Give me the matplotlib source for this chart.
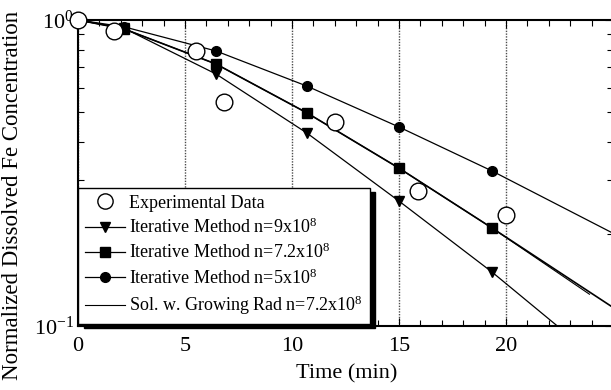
import numpy as np
import matplotlib.pyplot as plt
from matplotlib.ticker import FixedLocator, NullFormatter, MultipleLocator

plt.rcParams['font.family'] = ['Liberation Serif', 'DejaVu Serif']
plt.rcParams['mathtext.fontset'] = 'custom'
plt.rcParams['mathtext.rm'] = 'Liberation Serif'
plt.rcParams['mathtext.it'] = 'Liberation Serif:italic'

# experimental data
exp_t = [0.0, 1.7, 5.5, 6.8, 12.0, 15.9, 20.0]
exp_c = [1.0, 0.92, 0.79, 0.54, 0.464, 0.276, 0.23]

# iterative method, marker points
it_t = [2.15, 6.45, 10.7, 15.0, 19.35]
it9_c = [0.94, 0.666, 0.427, 0.256, 0.150]
it72_c = [0.935, 0.718, 0.497, 0.328, 0.209]
it5_c = [0.95, 0.792, 0.608, 0.447, 0.321]

# curve end points (start at t=0, c=1)
it9_end = (22.4, 0.1)
it72_end = (25.0, 0.115)
it5_end = (25.0, 0.201)

# solution with growing radius
gr_t = [0.0, 2.15, 6.45, 10.7, 15.0, 19.35, 23.9]
gr_c = [1.0, 0.935, 0.718, 0.497, 0.328, 0.209, 0.127]

x_ticks = [0, 5, 10, 15, 20]

fig = plt.figure(figsize=(6.11, 3.9), dpi=100)
ax = fig.add_axes([78 / 611, 64 / 390, 535 / 611, 306 / 390])
ax.set_yscale('log')
ax.set_xlim(0, 25)
ax.set_ylim(0.1, 1.0)


def curve(c, end):
    return [0.0] + it_t + [end[0]], [1.0] + c + [end[1]]


lw = 0.9
x, y = curve(it9_c, it9_end)
ax.plot(x, y, color='black', lw=lw)
x, y = curve(it72_c, it72_end)
ax.plot(x, y, color='black', lw=1.2)
x, y = curve(it5_c, it5_end)
ax.plot(x, y, color='black', lw=lw)
ax.plot(gr_t, gr_c, color='black', lw=0.8)

ax.plot(it_t, it9_c, 'v', color='black', ms=7, ls='none')
ax.plot(it_t, it72_c, 's', color='black', ms=7.5, ls='none')
ax.plot(it_t, it5_c, 'o', color='black', ms=7, ls='none')
ax.plot(exp_t, exp_c, 'o', mfc='white', mec='black', mew=1.0, ms=12,
        ls='none', clip_on=False, zorder=5)

# legend handles
h_exp, = ax.plot([], [], 'o', mfc='white', mec='black', mew=1.0, ms=11,
                 ls='none')
h9, = ax.plot([], [], 'v-', color='black', ms=7, lw=lw)
h72, = ax.plot([], [], 's-', color='black', ms=7.5, lw=lw)
h5, = ax.plot([], [], 'o-', color='black', ms=7, lw=lw)
hgr, = ax.plot([], [], '-', color='black', lw=0.8)
leg = ax.legend([h_exp, h9, h72, h5, hgr],
                ['Experimental Data',
                 r'Iterative Method n=9x10$^8$',
                 r'Iterative Method n=7.2x10$^8$',
                 r'Iterative Method n=5x10$^8$',
                 r'Sol. w. Growing Rad n=7.2x10$^8$'],
                loc='lower left', bbox_to_anchor=(0.0, 2 / 306), fontsize=13,
                frameon=True, fancybox=False,
                shadow={'color': 'black', 'alpha': 1, 'ox': 4, 'oy': -3},
                borderaxespad=0, handlelength=2.2, handletextpad=0.25,
                labelspacing=0.33, borderpad=0.38)
leg.get_frame().set_edgecolor('black')
leg.get_frame().set_linewidth(1.0)
leg.set_zorder(10)

# ticks
ax.set_xticks(x_ticks)
ax.set_xticklabels([str(t) for t in x_ticks])
ax.xaxis.set_minor_locator(MultipleLocator(1))
ax.set_yticks([0.1, 1.0])
ax.set_yticklabels([r'$10^{-1}$', r'$10^{0}$'])
ax.yaxis.set_minor_locator(FixedLocator(np.arange(0.2, 1.0, 0.1)))
ax.yaxis.set_minor_formatter(NullFormatter())
ax.tick_params(which='both', direction='in', top=True, right=True,
               labelsize=16, width=0.8, colors='black')
ax.tick_params(which='major', length=6)
ax.tick_params(which='minor', length=4)
ax.tick_params(axis='x', pad=8)
ax.tick_params(axis='y', pad=3)

ax.grid(axis='x', which='major', ls=(0, (1, 1)), color='0.3', lw=1.0)
for s in ax.spines.values():
    s.set_linewidth(1.5)

fig.text(347 / 611, 1 - 374 / 390, 'Time (min)', ha='center', va='center',
         fontsize=16)
fig.text(13 / 611, 1 - 195 / 390, 'Normalized Dissolved Fe Concentration',
         rotation=90, ha='center', va='center', fontsize=16.5)

fig.savefig('out.png', dpi=100)
